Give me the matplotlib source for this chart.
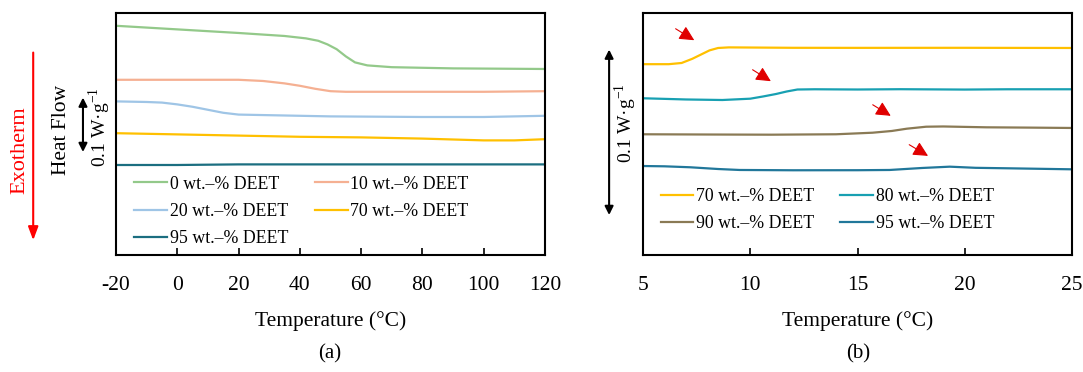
"""
DSC heat flow curves for DEET blends, two panels.
"""
import matplotlib
matplotlib.use("Agg")
import matplotlib.pyplot as plt

plt.rcParams["font.family"] = ["Liberation Serif", "DejaVu Serif"]
plt.rcParams["axes.unicode_minus"] = False

# panel (a): temperature (degC) and heat flow (W/g, offset curves)
t_a0 = [-20, 0, 20, 35, 42, 46, 49, 52, 55, 58, 62, 70, 90, 120]
hf_a0 = [0.382, 0.376, 0.370, 0.365, 0.361, 0.357, 0.351, 0.343, 0.331, 0.321, 0.316, 0.313, 0.311, 0.310]
t_a10 = [-20, 0, 20, 28, 35, 40, 45, 50, 55, 70, 100, 120]
hf_a10 = [0.292, 0.292, 0.292, 0.290, 0.286, 0.282, 0.277, 0.273, 0.272, 0.272, 0.272, 0.273]
t_a20 = [-20, -10, -5, 0, 5, 10, 15, 20, 30, 50, 80, 100, 120]
hf_a20 = [0.256, 0.255, 0.254, 0.251, 0.247, 0.242, 0.237, 0.234, 0.233, 0.231, 0.230, 0.230, 0.232]
t_a70 = [-20, 0, 20, 40, 60, 80, 100, 110, 120]
hf_a70 = [0.203, 0.201, 0.199, 0.197, 0.196, 0.194, 0.191, 0.191, 0.193]
t_a95 = [-20, 0, 10, 20, 60, 120]
hf_a95 = [0.150, 0.150, 0.1505, 0.151, 0.151, 0.151]

# panel (b)
t_b70 = [5, 6.2, 6.8, 7.3, 7.7, 8.1, 8.5, 9, 12, 15, 20, 25]
hf_b70 = [0.318, 0.318, 0.320, 0.327, 0.334, 0.341, 0.345, 0.346, 0.3453, 0.3452, 0.3453, 0.345]
t_b80 = [5, 7, 8.7, 10, 10.6, 11.2, 11.7, 12.2, 13, 15, 17, 20, 22, 25]
hf_b80 = [0.2612, 0.2592, 0.2583, 0.2605, 0.2642, 0.2683, 0.2725, 0.2758, 0.2762, 0.2758, 0.2763, 0.2757, 0.2762, 0.2762]
t_b90 = [5, 8, 11, 14, 15.7, 16.6, 17.3, 18.2, 19, 21, 23, 25]
hf_b90 = [0.2012, 0.2008, 0.2005, 0.2012, 0.2038, 0.2067, 0.2105, 0.2138, 0.2142, 0.2128, 0.2123, 0.2117]
t_b95 = [5, 6, 7.2, 8.5, 9.5, 12, 15, 16.5, 18, 19.3, 20.5, 22, 25]
hf_b95 = [0.1483, 0.1478, 0.1462, 0.1433, 0.1417, 0.1412, 0.1413, 0.1417, 0.145, 0.1472, 0.1453, 0.1445, 0.1428]

# red transition markers in panel (b): tail -> head
arrow_t0 = [6.41, 10.0, 15.6, 17.3]
arrow_hf0 = [0.3795, 0.3112, 0.2528, 0.1862]
arrow_t1 = [7.50, 11.07, 16.66, 18.4]
arrow_hf1 = [0.3555, 0.2872, 0.2295, 0.1628]

labels_a = ["0 wt.\u2013% DEET", "10 wt.\u2013% DEET", "20 wt.\u2013% DEET",
            "70 wt.\u2013% DEET", "95 wt.\u2013% DEET"]
labels_b = ["70 wt.\u2013% DEET", "80 wt.\u2013% DEET", "90 wt.\u2013% DEET",
            "95 wt.\u2013% DEET"]
colors_a = ["#93c98a", "#f5b092", "#9fc5e6", "#ffc000", "#1b6e80"]
colors_b = ["#ffc000", "#18a0b2", "#8a7a55", "#21779a"]

fig = plt.figure(figsize=(10.83, 3.72), dpi=100)
ax_a = fig.add_axes([116 / 1083, 117 / 372, 429 / 1083, 242 / 372])
ax_b = fig.add_axes([643 / 1083, 117 / 372, 429 / 1083, 242 / 372])

series_a = [(t_a0, hf_a0), (t_a10, hf_a10), (t_a20, hf_a20), (t_a70, hf_a70), (t_a95, hf_a95)]
lines_a = []
for (t, hf), lab, c in zip(series_a, labels_a, colors_a):
    lines_a += ax_a.plot(t, hf, color=c, lw=1.6, label=lab)

series_b = [(t_b70, hf_b70), (t_b80, hf_b80), (t_b90, hf_b90), (t_b95, hf_b95)]
lines_b = []
for (t, hf), lab, c in zip(series_b, labels_b, colors_b):
    lines_b += ax_b.plot(t, hf, color=c, lw=1.6, label=lab)

for t0, h0, t1, h1 in zip(arrow_t0, arrow_hf0, arrow_t1, arrow_hf1):
    ax_b.annotate("", xy=(t1, h1), xytext=(t0, h0),
                  arrowprops=dict(arrowstyle="-|>,head_length=0.9,head_width=0.45",
                                  color="#e00000", lw=0.8))

ax_a.set_xlim(-20, 120)
ax_b.set_xlim(5, 25)
ax_a.set_xticks([-20, 0, 20, 40, 60, 80, 100, 120])
ax_b.set_xticks([5, 10, 15, 20, 25])
for ax in (ax_a, ax_b):
    ax.set_ylim(0, 0.4033)
    ax.set_yticks([])
    ax.tick_params(axis="x", direction="in", length=5, width=1.2, pad=15, labelsize=15.5)
    for s in ax.spines.values():
        s.set_linewidth(1.5)
    ax.set_xlabel("Temperature (\u00b0C)", fontsize=15.5, labelpad=12)

# legends fill row by row, so reorder for matplotlib's column filling
order_a = [0, 2, 4, 1, 3]
order_b = [0, 2, 1, 3]
ax_a.legend([lines_a[i] for i in order_a], [labels_a[i] for i in order_a],
            ncol=2, loc="upper left", bbox_to_anchor=(0.042, 0.328), frameon=False,
            fontsize=12.8, handlelength=1.85, handletextpad=0.15, columnspacing=1.5,
            labelspacing=0.58, borderpad=0, borderaxespad=0)
ax_b.legend([lines_b[i] for i in order_b], [labels_b[i] for i in order_b],
            ncol=2, loc="upper left", bbox_to_anchor=(0.041, 0.278), frameon=False,
            fontsize=12.8, handlelength=1.85, handletextpad=0.15, columnspacing=1.45,
            labelspacing=0.58, borderpad=0, borderaxespad=0)

# side annotations for panel (a)
tr_a = ax_a.get_yaxis_transform()
ax_a.annotate("", xy=(-0.193, 0.02), xytext=(-0.193, 0.342), xycoords=tr_a, textcoords=tr_a,
              arrowprops=dict(arrowstyle="-|>,head_length=0.8,head_width=0.3",
                              color="red", lw=1.5), annotation_clip=False)
ax_a.text(-0.224, 0.175, "Exotherm", transform=tr_a, rotation=90, color="red",
          ha="center", va="center", fontsize=16)
ax_a.text(-0.126, 0.208, "Heat Flow", transform=tr_a, rotation=90,
          ha="center", va="center", fontsize=15.5)
ax_a.annotate("", xy=(-0.077, 0.267), xytext=(-0.077, 0.167), xycoords=tr_a, textcoords=tr_a,
              arrowprops=dict(arrowstyle="<|-|>,head_length=0.5,head_width=0.25",
                              color="black", lw=1.5), annotation_clip=False)
ax_a.text(-0.037, 0.213, "0.1 W\u00b7g$^{\\mathregular{-1}}$", transform=tr_a, rotation=90,
          ha="center", va="center", fontsize=14)

# scale bar for panel (b)
tr_b = ax_b.get_yaxis_transform()
ax_b.annotate("", xy=(-0.079, 0.347), xytext=(-0.079, 0.062), xycoords=tr_b, textcoords=tr_b,
              arrowprops=dict(arrowstyle="<|-|>,head_length=0.5,head_width=0.25",
                              color="black", lw=1.5), annotation_clip=False)
ax_b.text(-0.040, 0.22, "0.1 W\u00b7g$^{\\mathregular{-1}}$", transform=tr_b, rotation=90,
          ha="center", va="center", fontsize=14)

fig.text(330 / 1083, 1 - 354 / 372, "(a)", ha="center", va="center", fontsize=15)
fig.text(858 / 1083, 1 - 354 / 372, "(b)", ha="center", va="center", fontsize=15)

fig.savefig("out.png", dpi=100)
